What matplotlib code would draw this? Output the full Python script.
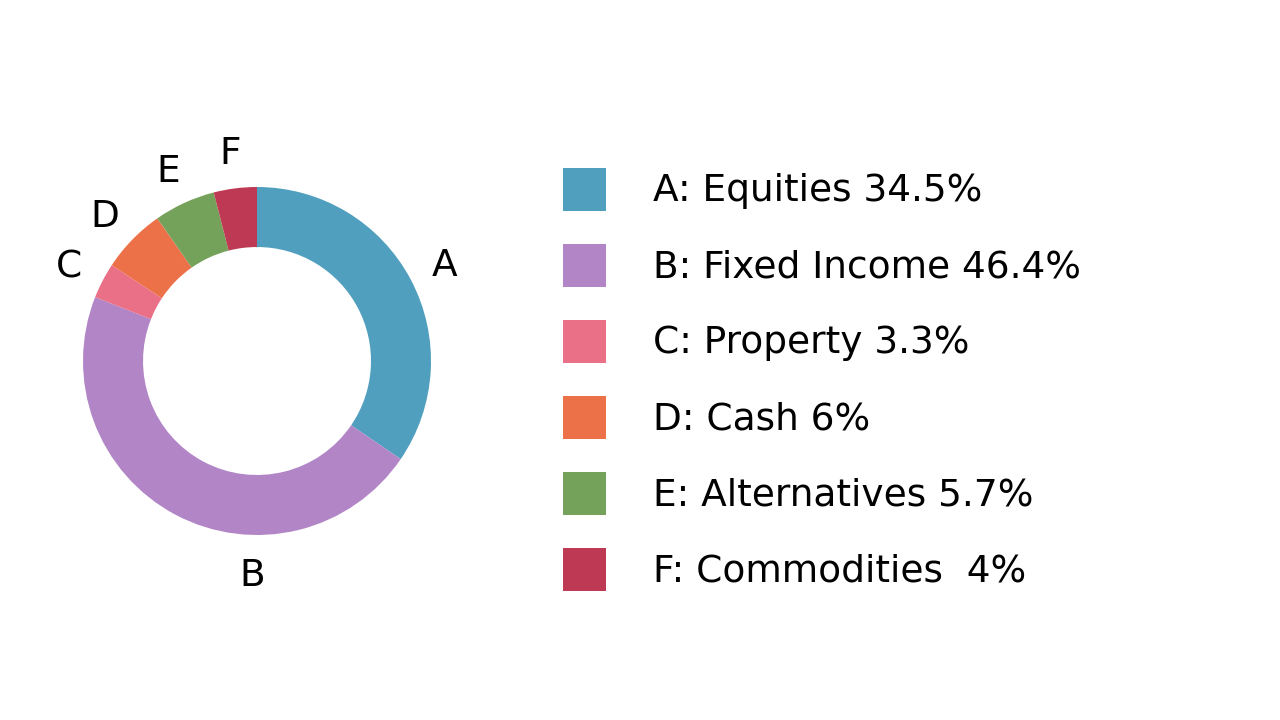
import numpy as np
import matplotlib
matplotlib.use("Agg")
import matplotlib.pyplot as plt
from matplotlib.patches import Rectangle

# Data
letters = ["A", "B", "C", "D", "E", "F"]
names = ["Equities", "Fixed Income", "Property", "Cash", "Alternatives", "Commodities "]
values = [34.5, 46.4, 3.3, 6, 5.7, 4]
colors = ["#519FBE", "#B185C6", "#E97086", "#EC7148", "#75A25A", "#BE3953"]

plt.rcParams["font.family"] = ["DejaVu Sans"]

W, H = 1280, 720
fig = plt.figure(figsize=(W / 100, H / 100), dpi=100)

# Donut chart
cx, cy, r_px = 257, 361, 174
half = 250
ax = fig.add_axes([(cx - half) / W, (H - cy - half) / H, 2 * half / W, 2 * half / H])
lim = half / r_px
wedges, texts = ax.pie(
    values,
    labels=letters,
    colors=colors,
    startangle=90,
    counterclock=False,
    radius=1.0,
    labeldistance=1.22,
    wedgeprops=dict(width=0.345, linewidth=0),
    textprops=dict(fontsize=27, color="black"),
)
for t in texts:
    t.set_ha("center")
    t.set_va("center_baseline")
# B label sits straight below the ring
texts[1].set_position((-0.03, -1.21))
ax.set_xlim(-lim, lim)
ax.set_ylim(-lim, lim)
ax.set_aspect("equal")
ax.axis("off")

# Legend
lax = fig.add_axes([0, 0, 1, 1])
lax.set_xlim(0, W)
lax.set_ylim(H, 0)
lax.axis("off")
box = 43
row0, step = 189, 76
for i, (let, name, val, col) in enumerate(zip(letters, names, values, colors)):
    y = row0 + i * step
    lax.add_patch(Rectangle((563, y - box / 2), box, box, facecolor=col, edgecolor="none"))
    lax.text(653, y + 12, f"{let}: {name} {val:g}%", fontsize=27, va="baseline", ha="left")

fig.savefig("out.png", dpi=100, facecolor="white")
